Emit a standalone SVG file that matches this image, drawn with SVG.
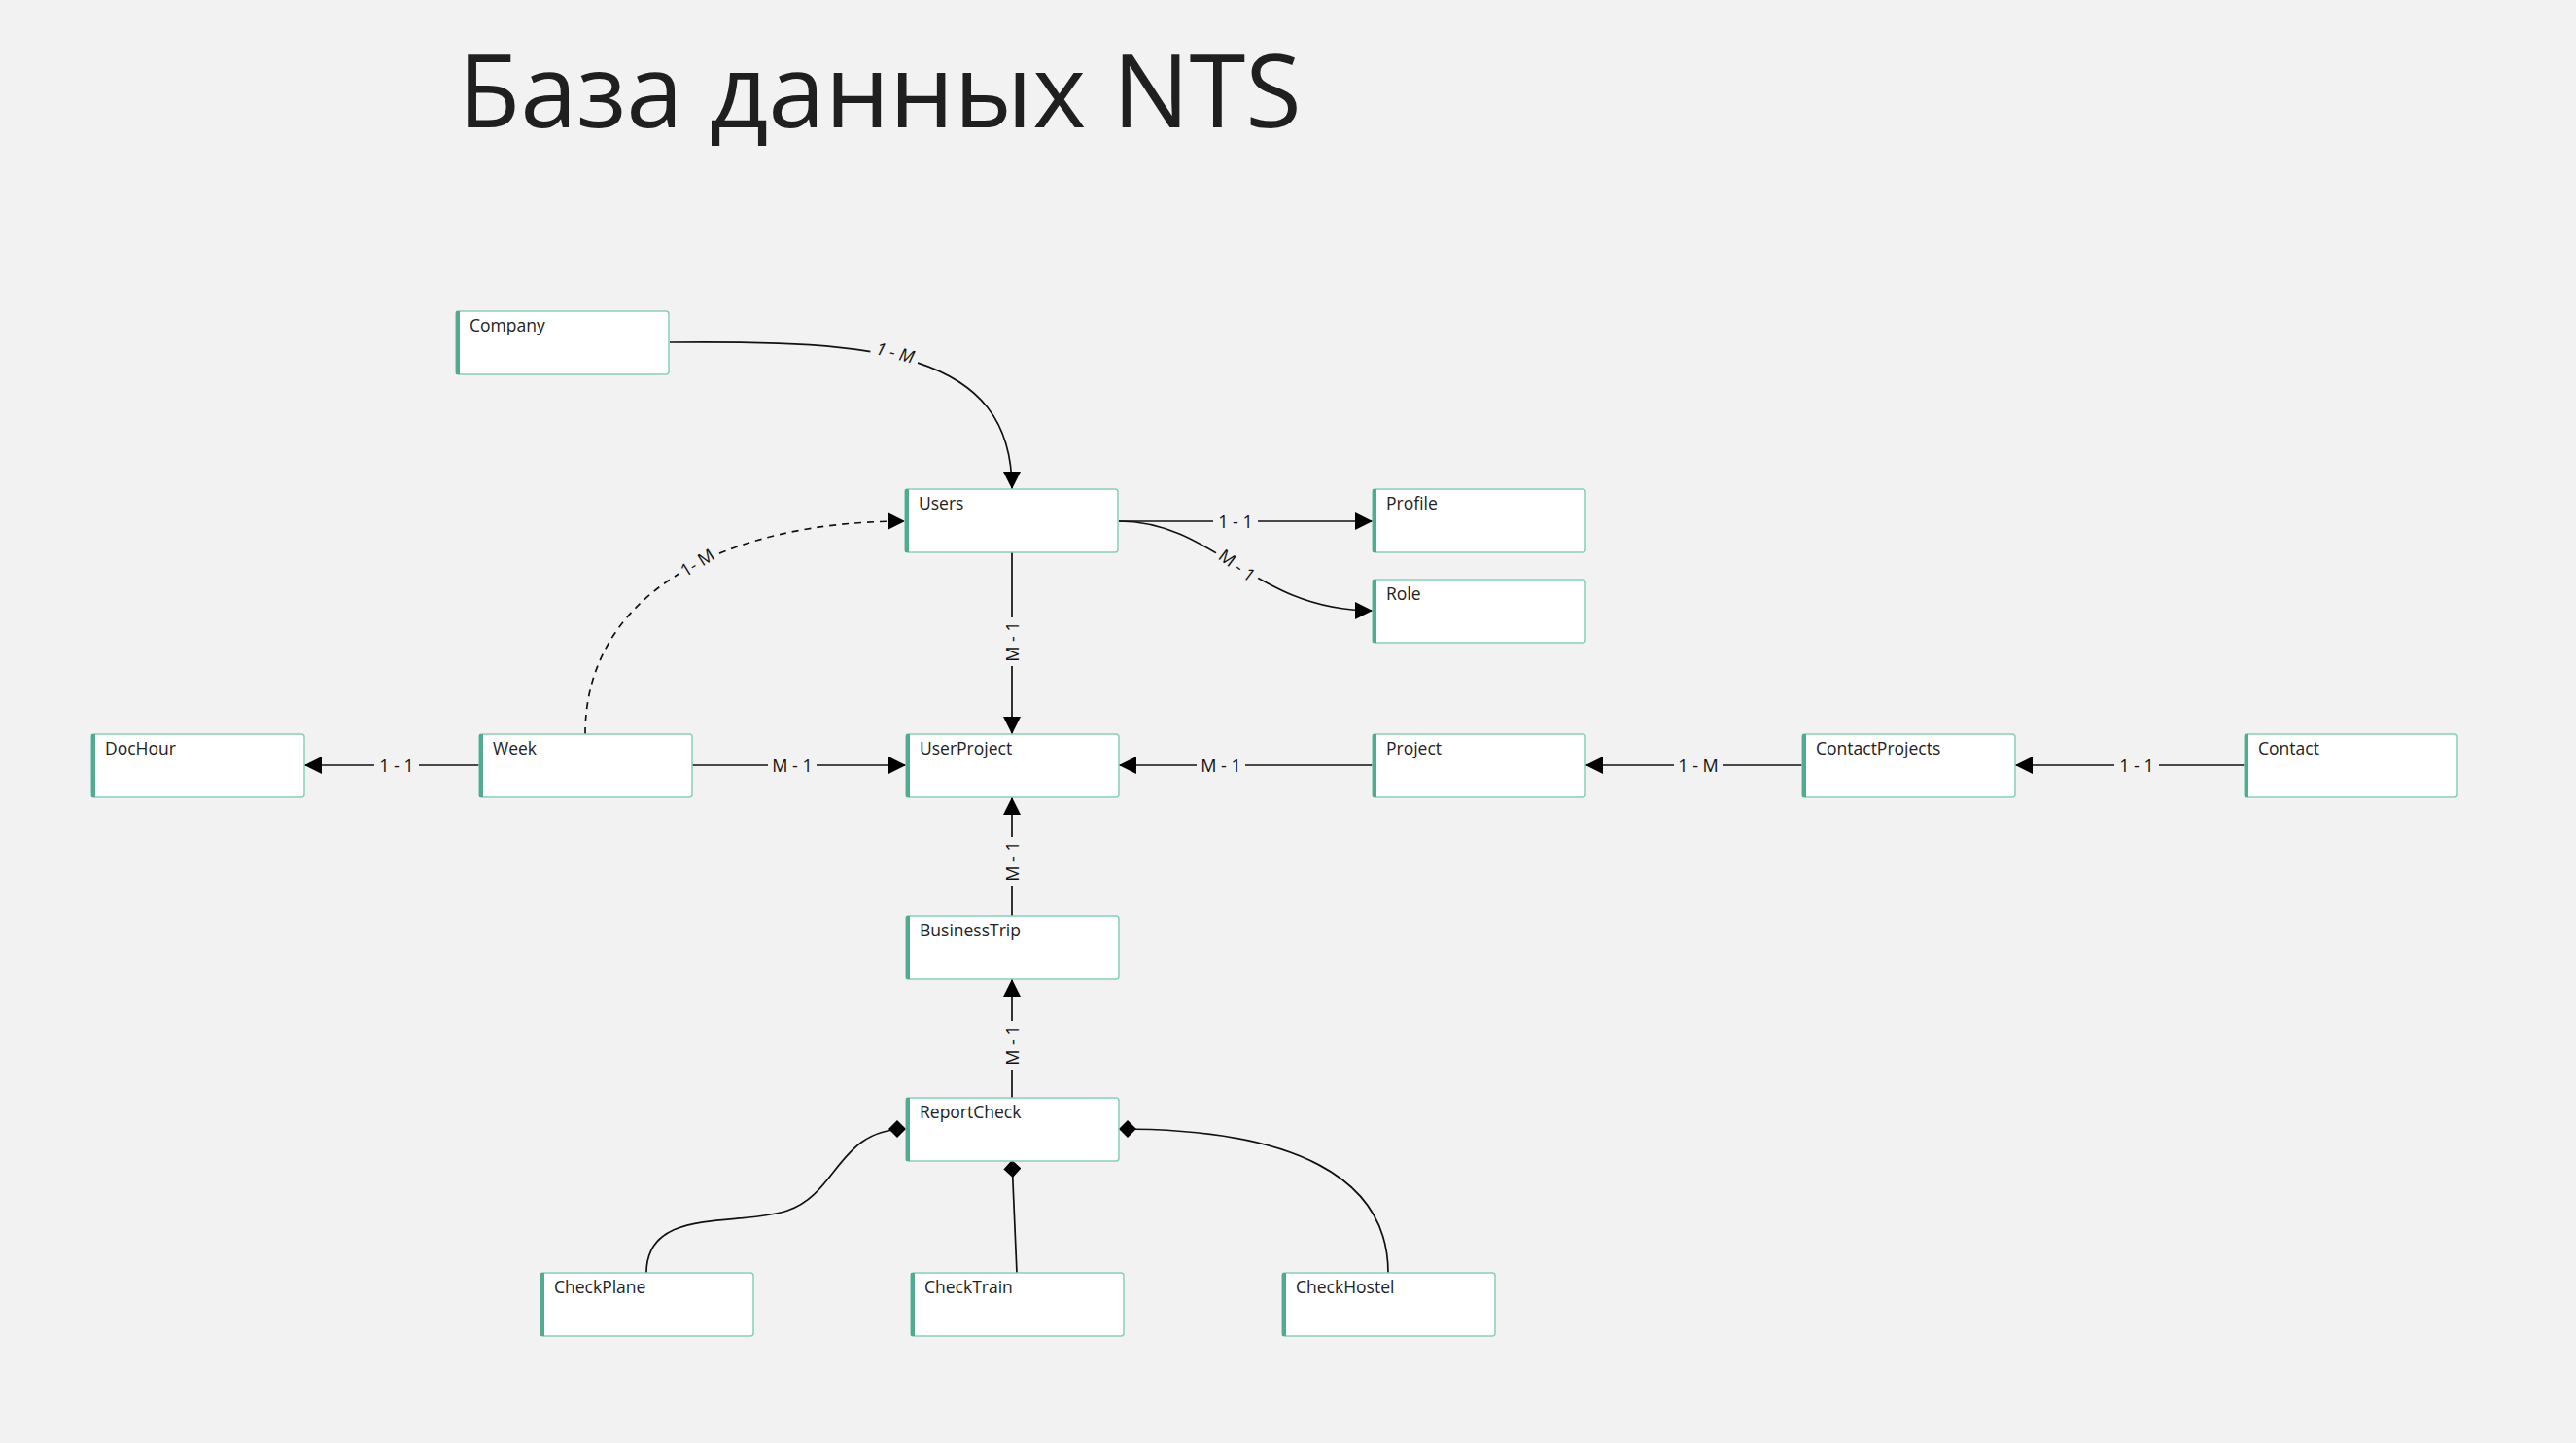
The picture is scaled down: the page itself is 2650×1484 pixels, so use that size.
<svg xmlns="http://www.w3.org/2000/svg" width="2650" height="1484" viewBox="0 0 2650 1484">
<defs>
<style>
.box{fill:#ffffff;stroke:#86cfba;stroke-width:1.5}
.bar{fill:#52ab91}
.nt{font-family:"Open Sans","Noto Sans",sans-serif;font-size:17.5px;fill:#222}
.ln{fill:none;stroke:#111;stroke-width:1.7}
.dash{stroke-dasharray:7 6}
.lb{font-family:"Open Sans","Noto Sans",sans-serif;font-size:18px;fill:#111;text-anchor:middle;dominant-baseline:central}
.lbg{fill:#f2f2f2}
.title{font-family:"Open Sans","Noto Sans",sans-serif;font-size:105px;fill:#1f1f1f}
</style>
<marker id="arr" markerUnits="userSpaceOnUse" markerWidth="18" markerHeight="18" refX="18" refY="9" orient="auto" viewBox="0 0 18 18">
<path d="M0,0 L18,9 L0,18 z" fill="#000"/>
</marker>
<marker id="dia" markerUnits="userSpaceOnUse" markerWidth="18" markerHeight="18" refX="18" refY="9" orient="auto" viewBox="0 0 18 18">
<path d="M0,9 L9,0 L18,9 L9,18 z" fill="#000"/>
</marker>
</defs>
<rect x="0" y="0" width="2650" height="1484" fill="#f2f2f2"/>
<text class="title" x="471" y="131">База данных NTS</text>

<g id="connectors">
<path class="ln" d="M689,352 C900,350 1041,360 1041,503" marker-end="url(#arr)"/>
<g transform="translate(921,362) rotate(14)"><rect class="lbg" x="-25" y="-11" width="50" height="22"/><text class="lb" x="0" y="0" font-style="italic">1 - M</text></g>

<path class="ln" d="M1151,536 L1412,536" marker-end="url(#arr)"/>
<g transform="translate(1271,536)"><rect class="lbg" x="-23" y="-11" width="46" height="22"/><text class="lb" x="0" y="0">1 - 1</text></g>

<path class="ln" d="M1151,536 C1250,536 1290,628 1412,628" marker-end="url(#arr)"/>
<g transform="translate(1273,581) rotate(37)"><rect class="lbg" x="-25" y="-11" width="50" height="22"/><text class="lb" x="0" y="0">M - 1</text></g>

<path class="ln dash" d="M602,755 C602,610 745,536 931,536" marker-end="url(#arr)"/>
<g transform="translate(717,578) rotate(-32)"><rect class="lbg" x="-22" y="-11" width="44" height="22"/><text class="lb" x="0" y="0">1- M</text></g>

<path class="ln" d="M1041,568 L1041,755" marker-end="url(#arr)"/>
<g transform="translate(1041,660) rotate(-90)"><rect class="lbg" x="-25" y="-11" width="50" height="22"/><text class="lb" x="0" y="0">M - 1</text></g>

<path class="ln" d="M493,787 L313,787" marker-end="url(#arr)"/>
<g transform="translate(408,787)"><rect class="lbg" x="-23" y="-11" width="46" height="22"/><text class="lb" x="0" y="0">1 - 1</text></g>

<path class="ln" d="M712,787 L932,787" marker-end="url(#arr)"/>
<g transform="translate(815,787)"><rect class="lbg" x="-25" y="-11" width="50" height="22"/><text class="lb" x="0" y="0">M - 1</text></g>

<path class="ln" d="M1412,787 L1151,787" marker-end="url(#arr)"/>
<g transform="translate(1256,787)"><rect class="lbg" x="-25" y="-11" width="50" height="22"/><text class="lb" x="0" y="0">M - 1</text></g>

<path class="ln" d="M1854,787 L1631,787" marker-end="url(#arr)"/>
<g transform="translate(1747,787)"><rect class="lbg" x="-25" y="-11" width="50" height="22"/><text class="lb" x="0" y="0">1 - M</text></g>

<path class="ln" d="M2309,787 L2073,787" marker-end="url(#arr)"/>
<g transform="translate(2198,787)"><rect class="lbg" x="-23" y="-11" width="46" height="22"/><text class="lb" x="0" y="0">1 - 1</text></g>

<path class="ln" d="M1041,942 L1041,820" marker-end="url(#arr)"/>
<g transform="translate(1041,886) rotate(-90)"><rect class="lbg" x="-25" y="-11" width="50" height="22"/><text class="lb" x="0" y="0">M - 1</text></g>

<path class="ln" d="M1041,1129 L1041,1007" marker-end="url(#arr)"/>
<g transform="translate(1041,1075) rotate(-90)"><rect class="lbg" x="-25" y="-11" width="50" height="22"/><text class="lb" x="0" y="0">M - 1</text></g>

<path class="ln" d="M665,1309 C665,1240 760,1262 810,1245 C862,1228 862,1161 932,1161" marker-end="url(#dia)"/>
<path class="ln" d="M1046,1309 L1041,1193" marker-end="url(#dia)"/>
<path class="ln" d="M1428,1309 C1428,1210 1330,1161 1151,1161" marker-end="url(#dia)"/>
</g>

<g id="Company"><rect class="box" x="469" y="320" width="219" height="65" rx="3"/><rect class="bar" x="469" y="320" width="4" height="65"/><text class="nt" x="483" y="341">Company</text></g>
<g id="Users"><rect class="box" x="931" y="503" width="219" height="65" rx="3"/><rect class="bar" x="931" y="503" width="4" height="65"/><text class="nt" x="945" y="524">Users</text></g>
<g id="Profile"><rect class="box" x="1412" y="503" width="219" height="65" rx="3"/><rect class="bar" x="1412" y="503" width="4" height="65"/><text class="nt" x="1426" y="524">Profile</text></g>
<g id="Role"><rect class="box" x="1412" y="596" width="219" height="65" rx="3"/><rect class="bar" x="1412" y="596" width="4" height="65"/><text class="nt" x="1426" y="617">Role</text></g>
<g id="DocHour"><rect class="box" x="94" y="755" width="219" height="65" rx="3"/><rect class="bar" x="94" y="755" width="4" height="65"/><text class="nt" x="108" y="776">DocHour</text></g>
<g id="Week"><rect class="box" x="493" y="755" width="219" height="65" rx="3"/><rect class="bar" x="493" y="755" width="4" height="65"/><text class="nt" x="507" y="776">Week</text></g>
<g id="UserProject"><rect class="box" x="932" y="755" width="219" height="65" rx="3"/><rect class="bar" x="932" y="755" width="4" height="65"/><text class="nt" x="946" y="776">UserProject</text></g>
<g id="Project"><rect class="box" x="1412" y="755" width="219" height="65" rx="3"/><rect class="bar" x="1412" y="755" width="4" height="65"/><text class="nt" x="1426" y="776">Project</text></g>
<g id="ContactProjects"><rect class="box" x="1854" y="755" width="219" height="65" rx="3"/><rect class="bar" x="1854" y="755" width="4" height="65"/><text class="nt" x="1868" y="776">ContactProjects</text></g>
<g id="Contact"><rect class="box" x="2309" y="755" width="219" height="65" rx="3"/><rect class="bar" x="2309" y="755" width="4" height="65"/><text class="nt" x="2323" y="776">Contact</text></g>
<g id="BusinessTrip"><rect class="box" x="932" y="942" width="219" height="65" rx="3"/><rect class="bar" x="932" y="942" width="4" height="65"/><text class="nt" x="946" y="963">BusinessTrip</text></g>
<g id="ReportCheck"><rect class="box" x="932" y="1129" width="219" height="65" rx="3"/><rect class="bar" x="932" y="1129" width="4" height="65"/><text class="nt" x="946" y="1150">ReportCheck</text></g>
<g id="CheckPlane"><rect class="box" x="556" y="1309" width="219" height="65" rx="3"/><rect class="bar" x="556" y="1309" width="4" height="65"/><text class="nt" x="570" y="1330">CheckPlane</text></g>
<g id="CheckTrain"><rect class="box" x="937" y="1309" width="219" height="65" rx="3"/><rect class="bar" x="937" y="1309" width="4" height="65"/><text class="nt" x="951" y="1330">CheckTrain</text></g>
<g id="CheckHostel"><rect class="box" x="1319" y="1309" width="219" height="65" rx="3"/><rect class="bar" x="1319" y="1309" width="4" height="65"/><text class="nt" x="1333" y="1330">CheckHostel</text></g>
</svg>
